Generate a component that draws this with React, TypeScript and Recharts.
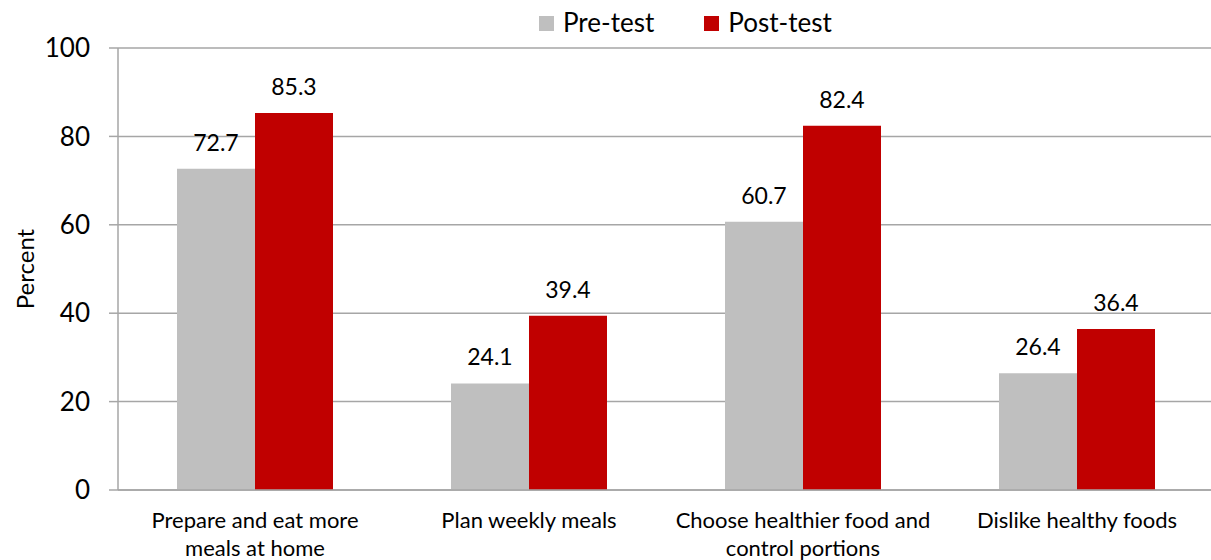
import { BarChart, Bar, XAxis, YAxis, CartesianGrid, Legend, LabelList } from 'recharts';

const categories = [
  'Prepare and eat more\nmeals at home',
  'Plan weekly meals',
  'Choose healthier food and\ncontrol portions',
  'Dislike healthy foods',
];
const seriesNames = ['Pre-test', 'Post-test'];
const preTest = [72.7, 24.1, 60.7, 26.4];
const postTest = [85.3, 39.4, 82.4, 36.4];
const yTicks = [0, 20, 40, 60, 80, 100];

const FONT = 'Lato, "Open Sans", sans-serif';
const GRID = '#A6A6A6';

const data = categories.map((name, i) => ({ name, pre: preTest[i], post: postTest[i] }));

// two-line category labels, split on the newline
function CategoryTick(props: any) {
  const { x, y, payload } = props;
  const lines = String(payload.value).split('\n');
  return (
    <text x={x} y={y} textAnchor="middle" fill="#000" fontSize={22} fontFamily={FONT}>
      {lines.map((line, i) => (
        <tspan key={i} x={x} dy={i === 0 ? 38 : 28}>{line}</tspan>
      ))}
    </text>
  );
}

function LegendBox(props: any) {
  const items = [...(props.payload || [])].sort(
    (a: any, b: any) => seriesNames.indexOf(a.value) - seriesNames.indexOf(b.value)
  );
  return (
    <div style={{ display: 'flex', fontFamily: FONT, fontSize: 26, lineHeight: '30px', color: '#000' }}>
      {items.map((it: any, i: number) => (
        <div key={i} style={{ display: 'flex', alignItems: 'center', marginLeft: i === 0 ? 0 : 50 }}>
          <span style={{ display: 'inline-block', width: 15, height: 15, background: it.color, marginRight: 9, marginTop: 3 }} />
          <span>{it.value}</span>
        </div>
      ))}
    </div>
  );
}

export default function App() {
  return (
    <div style={{ position: 'absolute', left: 0, top: 0, width: 1211, height: 560, overflow: 'hidden', background: '#fff' }}>
      <BarChart width={1214} height={560} data={data} margin={{ top: 48, right: 0, left: 0, bottom: 0 }} barGap={0} barSize={78}>
        <CartesianGrid vertical={false} stroke={GRID} strokeWidth={1.5} />
        <XAxis
          dataKey="name"
          axisLine={{ stroke: GRID, strokeWidth: 1.5 }}
          tickLine={false}
          tickSize={0}
          tickMargin={0}
          height={70}
          interval={0}
          tick={<CategoryTick />}
        />
        <YAxis
          width={118}
          domain={[0, 100]}
          ticks={yTicks}
          interval={0}
          axisLine={{ stroke: GRID, strokeWidth: 1.5 }}
          tickLine={{ stroke: GRID, strokeWidth: 1.5 }}
          tickSize={9}
          tickMargin={19}
          tick={{ fill: '#000', fontSize: 26, fontFamily: FONT }}
          label={{ value: 'Percent', angle: -90, position: 'insideLeft', dx: 20, style: { fill: '#000', fontSize: 24, fontFamily: FONT, textAnchor: 'middle' } }}
        />
        <Legend
          verticalAlign="middle"
          align="center"
          wrapperStyle={{ top: 7, left: 539, width: 'auto' }}
          content={<LegendBox />}
        />
        <Bar dataKey="pre" name={seriesNames[0]} fill="#BFBFBF" isAnimationActive={false}>
          <LabelList dataKey="pre" position="top" offset={18} fill="#000" fontSize={23} fontFamily={FONT} />
        </Bar>
        <Bar dataKey="post" name={seriesNames[1]} fill="#C00000" isAnimationActive={false}>
          <LabelList dataKey="post" position="top" offset={18} fill="#000" fontSize={23} fontFamily={FONT} />
        </Bar>
      </BarChart>
    </div>
  );
}
